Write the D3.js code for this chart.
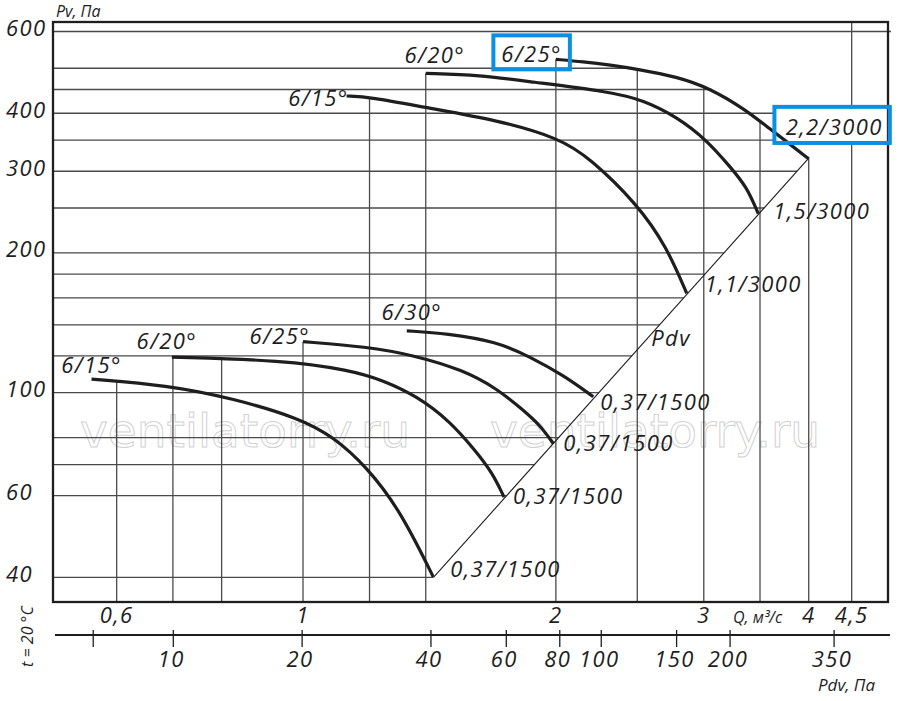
<!DOCTYPE html>
<html><head><meta charset="utf-8">
<script src="https://cdn.jsdelivr.net/npm/d3@7/dist/d3.min.js"></script>
<style>
body{margin:0;background:#fff}
svg{display:block}
text{font-family:"Open Sans",sans-serif;font-style:italic;fill:#1e1e1e}
</style>
</head><body>
<svg id="chart" width="900" height="701"></svg>
<script>
// ---------------- data ----------------
const qGrid = [0.6, 0.7, 0.8, 1, 1.2, 1.4, 2, 2.5, 3, 3.5, 4, 4.5];
const qTicks = [0.6, 1, 2, 3, 4, 4.5];
const qTickLabels = ["0,6", "1", "2", "3", "4", "4,5"];
const pvGrid = [600, 500, 450, 400, 350, 300, 250, 200, 180, 160, 140, 120, 100, 80, 70, 60, 40];
const pvTicks = [600, 400, 300, 200, 100, 60, 40];
const pdvTicks = [6.5, 10, 20, 40, 60, 80, 100, 150, 200, 350];
const pdvTickLabels = ["", "10", "20", "40", "60", "80", "100", "150", "200", "350"];

// 1500 rpm curves (Q m3/s, Pv Pa)
const lo15Q = [0.560, 0.688, 0.826, 0.992, 1.087, 1.191, 1.305, 1.429];
const lo15P = [107, 103.8, 97.2, 88, 80.3, 69.2, 55.8, 40.1];
const lo20Q = [0.698, 0.947, 1.137, 1.245, 1.367, 1.496, 1.602, 1.679, 1.735];
const lo20P = [119.3, 117.5, 111.9, 106.4, 98.3, 86.8, 75.2, 67.4, 59.6];
const lo25Q = [1.0, 1.191, 1.353, 1.551, 1.701, 1.829, 1.915, 1.986];
const lo25P = [128.8, 125.6, 120.5, 111.9, 102.1, 91.7, 85.1, 77.7];
const lo30Q = [1.329, 1.483, 1.701, 1.863, 2.041, 2.216];
const lo30P = [135.9, 134.2, 128.8, 119.5, 109.1, 98.0];
// 3000 rpm curves
const hi15Q = [1.127, 1.198, 1.416, 1.701, 2.023, 2.196, 2.496, 2.71, 2.863];
const hi15P = [435.7, 434, 409.9, 386.8, 353.2, 319.8, 255.8, 206.3, 163.6];
const hi20Q = [1.40, 1.624, 1.863, 2.32, 2.542, 2.786, 3.024, 3.224, 3.375, 3.483];
const hi20P = [487.6, 483.5, 467.7, 445, 427, 393, 350.3, 306.8, 277.7, 243];
const hi25Q = [2.0, 2.157, 2.32, 2.507, 2.786, 3.051, 3.344, 3.597, 3.8, 4.0];
const hi25P = [522.6, 516.4, 508.2, 497.4, 479.5, 452.6, 409.9, 370, 343, 319];
// dynamic pressure line
const pdvLineQ = [1.43, 4.0];
const pdvLineP = [40, 320];

const angleLabels = ["6/15°", "6/20°", "6/25°", "6/30°", "6/15°", "6/20°", "6/25°"];
const motorLabels = ["0,37/1500", "0,37/1500", "0,37/1500", "0,37/1500", "1,1/3000", "1,5/3000", "2,2/3000"];

// ---------------- build ----------------
const curves = [
  {q: lo15Q, p: lo15P}, {q: lo20Q, p: lo20P}, {q: lo25Q, p: lo25P}, {q: lo30Q, p: lo30P},
  {q: hi15Q, p: hi15P}, {q: hi20Q, p: hi20P}, {q: hi25Q, p: hi25P}
].map((c, i) => ({...c, angle: angleLabels[i], motor: motorLabels[i]}));
const diag = {q: pdvLineQ, p: pdvLineP};
const topCurve = curves[6];

const svg = d3.select("#chart");
const plot = {l: 53, r: 888, t: 22, b: 602};
const x = d3.scaleLog().domain([0.5039, 4.971]).range([plot.l, plot.r]);
const y = d3.scaleLog().domain([35.4, 629]).range([plot.b, plot.t]);
const xp = d3.scaleLog().domain([5.235, 467.8]).range([plot.l, plot.r]);

const L = Math.log;
function valAt(c, q) {
  const n = c.q.length;
  if (q < c.q[0] - 1e-6 || q > c.q[n - 1] + 1e-6) return null;
  for (let i = 0; i < n - 1; i++) {
    if (q <= c.q[i + 1] + 1e-9) {
      const t = (L(q) - L(c.q[i])) / (L(c.q[i + 1]) - L(c.q[i]));
      return Math.exp(L(c.p[i]) + t * (L(c.p[i + 1]) - L(c.p[i])));
    }
  }
  return c.p[n - 1];
}
function crossQ(c, v) {
  for (let i = 0; i < c.q.length - 1; i++) {
    const a = c.p[i], b = c.p[i + 1];
    if ((a - v) * (b - v) <= 0 && a !== b) {
      const t = (L(v) - L(a)) / (L(b) - L(a));
      return Math.exp(L(c.q[i]) + t * (L(c.q[i + 1]) - L(c.q[i])));
    }
  }
  return null;
}

// watermark
svg.append("g").selectAll("text").data([80, 490]).join("text")
  .attr("x", d => d).attr("y", 447)
  .style("font-family", "'DejaVu Sans',sans-serif").style("font-style", "normal")
  .style("font-size", "47px").style("fill", "none").style("stroke", "#d2d2d2").style("stroke-width", 1)
  .text("ventilatorry.ru");

// vertical grid lines (up to highest curve at that Q)
const allC = curves.concat([diag]);
const gGrid = svg.append("g").attr("stroke", "#4a4a4a").attr("stroke-width", 1.3);
gGrid.selectAll("line.v").data(qGrid).join("line").attr("class", "v")
  .attr("x1", d => x(d)).attr("x2", d => x(d))
  .attr("y1", plot.b)
  .attr("y2", d => {
    const vals = allC.map(c => valAt(c, d)).filter(v => v !== null);
    return vals.length ? y(d3.max(vals)) : plot.t;
  });

// horizontal grid lines
const diagTop = d3.max(pdvLineP);
gGrid.selectAll("line.h").data(pvGrid).join("line").attr("class", "h")
  .attr("y1", d => y(d)).attr("y2", d => y(d))
  .attr("x1", plot.l)
  .attr("x2", d => {
    if (d <= diagTop) return x(crossQ(diag, d));
    const cq = crossQ(topCurve, d);
    if (cq === null) return plot.r + 3;
    return d >= 450 ? x(cq) : x(d3.max(pdvLineQ));
  });

const boxColor = "#0b8fe0";
const boxG = svg.append("g");

// diagonal Pdv line
svg.append("path").datum(pdvLineQ.map((q, i) => [q, pdvLineP[i]]))
  .attr("d", d3.line().x(d => x(d[0])).y(d => y(d[1])))
  .attr("fill", "none").attr("stroke", "#1e1e1e").attr("stroke-width", 1.1);

// frame
svg.append("rect").attr("x", plot.l).attr("y", plot.t)
  .attr("width", plot.r - plot.l).attr("height", plot.b - plot.t)
  .attr("fill", "none").attr("stroke", "#1e1e1e").attr("stroke-width", 2.3);

// curves
const line = d3.line().x(d => x(d[0])).y(d => y(d[1])).curve(d3.curveBasis);
svg.append("g").selectAll("path").data(curves).join("path")
  .attr("d", c => line(c.q.map((q, i) => [q, c.p[i]])))
  .attr("fill", "none").attr("stroke", "#1e1e1e").attr("stroke-width", 3.2);

// labels
const fs = "22px", ls = "1.4px";
const angleOff = [
  {a: "middle", dx: 0, dy: -6}, {a: "middle", dx: -5, dy: -8}, {a: "end", dx: 7, dy: 2}, {a: "middle", dx: 5, dy: -11},
  {a: "end", dx: 2, dy: 10}, {a: "middle", dx: 9, dy: -10}, {a: "end", dx: 6, dy: 3}
];
const motorOff = [
  {dx: 17, dy: 0}, {dx: 9, dy: 7}, {dx: 10, dy: 7}, {dx: 7, dy: 13},
  {dx: 18, dy: -1.6}, {dx: 15, dy: 5}, {dx: -23, dy: -23.5}
];
const lab = svg.append("g").style("font-size", fs).style("letter-spacing", ls);
const angleTexts = lab.selectAll("text.ang").data(curves).join("text").attr("class", "ang")
  .attr("x", (c, i) => x(c.q[0]) + angleOff[i].dx)
  .attr("y", (c, i) => y(c.p[0]) + angleOff[i].dy)
  .attr("text-anchor", (c, i) => angleOff[i].a)
  .text(c => c.angle);
const motorTexts = lab.selectAll("text.mot").data(curves).join("text").attr("class", "mot")
  .attr("x", (c, i) => x(c.q[c.q.length - 1]) + motorOff[i].dx)
  .attr("y", (c, i) => y(c.p[c.p.length - 1]) + motorOff[i].dy)
  .text(c => c.motor);
lab.append("text").attr("x", x(2.5) + 14).attr("y", y(126)).text("Pdv");

// highlight boxes
function boxAround(node, pad, fill) {
  const bb = node.getBBox();
  const r = {x: bb.x - pad.l, y: bb.y - pad.t, w: bb.width + pad.l + pad.r, h: bb.height + pad.t + pad.b};
  boxG.append("rect").attr("x", r.x).attr("y", r.y).attr("width", r.w).attr("height", r.h)
    .attr("fill", fill).attr("stroke", "none");
  svg.append("rect").attr("x", r.x).attr("y", r.y).attr("width", r.w).attr("height", r.h)
    .attr("fill", "none").attr("stroke", boxColor).attr("stroke-width", 4);
}
boxAround(angleTexts.nodes()[6], {l: 8, r: 8, t: 3, b: 1}, "none");
boxAround(motorTexts.nodes()[6], {l: 11.3, r: 7, t: 4.5, b: 1.6}, "#fff");

// y tick labels
const ax = svg.append("g").style("font-size", fs).style("letter-spacing", ls);
ax.selectAll("text.yt").data(pvTicks).join("text").attr("class", "yt")
  .attr("x", 6).attr("y", d => y(d) + 4.5).text(d => d);
svg.append("text").attr("x", 56).attr("y", 17).style("font-size", "16px").text("Pv, Па");

// Q axis labels
ax.selectAll("text.xt").data(qTicks).join("text").attr("class", "xt")
  .attr("x", d => x(d)).attr("y", 623).attr("text-anchor", "middle")
  .text((d, i) => qTickLabels[i]);
svg.append("text").attr("x", 733).attr("y", 623).style("font-size", "16px").text("Q, м³/с");

// Pdv axis
const pg = svg.append("g");
pg.append("line").attr("x1", 55).attr("x2", 890).attr("y1", 635).attr("y2", 635)
  .attr("stroke", "#1e1e1e").attr("stroke-width", 2);
pg.selectAll("line.t").data(pdvTicks).join("line").attr("class", "t")
  .attr("x1", d => xp(d)).attr("x2", d => xp(d)).attr("y1", 630).attr("y2", 647)
  .attr("stroke", "#1e1e1e").attr("stroke-width", 1.3);
pg.selectAll("text").data(pdvTicks).join("text")
  .attr("x", d => xp(d) - 2).attr("y", 667).attr("text-anchor", "middle")
  .style("font-size", fs).style("letter-spacing", ls)
  .text((d, i) => pdvTickLabels[i]);
svg.append("text").attr("x", 875).attr("y", 691).attr("text-anchor", "end")
  .style("font-size", "17px").text("Pdv, Па");
svg.append("text").attr("transform", "translate(33,636.5) rotate(-90)")
  .attr("text-anchor", "middle").style("font-size", "16px").text("t = 20 °C");
</script>
</body></html>
